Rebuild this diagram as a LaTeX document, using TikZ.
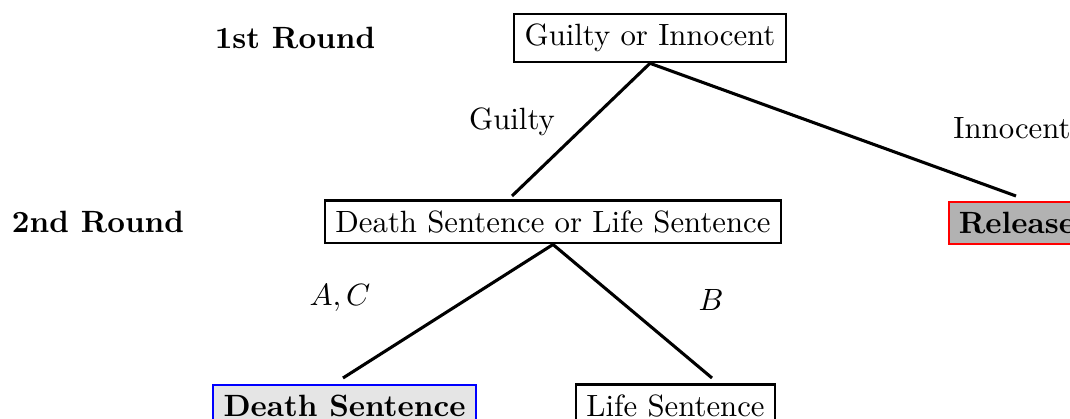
\documentclass[tikz,border=0pt]{standalone}
\begin{document}
\begin{tikzpicture}[x=0.325pt,y=-0.325pt,
  box/.style={draw,line width=0.7pt,inner sep=3.33pt},
  rnd/.style={font=\bfseries},
  edge/.style={line width=1pt}]
\useasboundingbox (0,0) rectangle (1070,419);
\clip (0,0) rectangle (1070,419);
% round labels
\node[rnd] (r1) at (295,38) {1st Round};
\node[rnd] (r2) at (98,222) {2nd Round};
% decision boxes
\node[box] (gi) at (650,38) {Guilty or Innocent};
\node[box] (dl) at (553,222) {Death Sentence or Life Sentence};
\node[box,draw=red,fill=gray!60,font=\bfseries] (rel) at (1017,223) {Release};
\node[box,draw=blue,fill=gray!20,font=\bfseries] (ds) at (344.5,406) {Death Sentence};
\node[box] (ls) at (675.5,406) {Life Sentence};
% edge ends
\coordinate (e1) at (512,196);
\coordinate (e2) at (1016,196);
\coordinate (e3) at (343,378);
\coordinate (e4) at (712,378);
\draw[edge] (gi.south) -- (e1);
\draw[edge] (gi.south) -- (e2);
\draw[edge] (dl.south) -- (e3);
\draw[edge] (dl.south) -- (e4);
% edge labels
\node (lg) at (512,122) {Guilty};
\node (li) at (1012,128) {Innocent};
\node (lac) at (340,298) {$A,C$};
\node (lb) at (711,300) {$B$};
\end{tikzpicture}
\end{document}
